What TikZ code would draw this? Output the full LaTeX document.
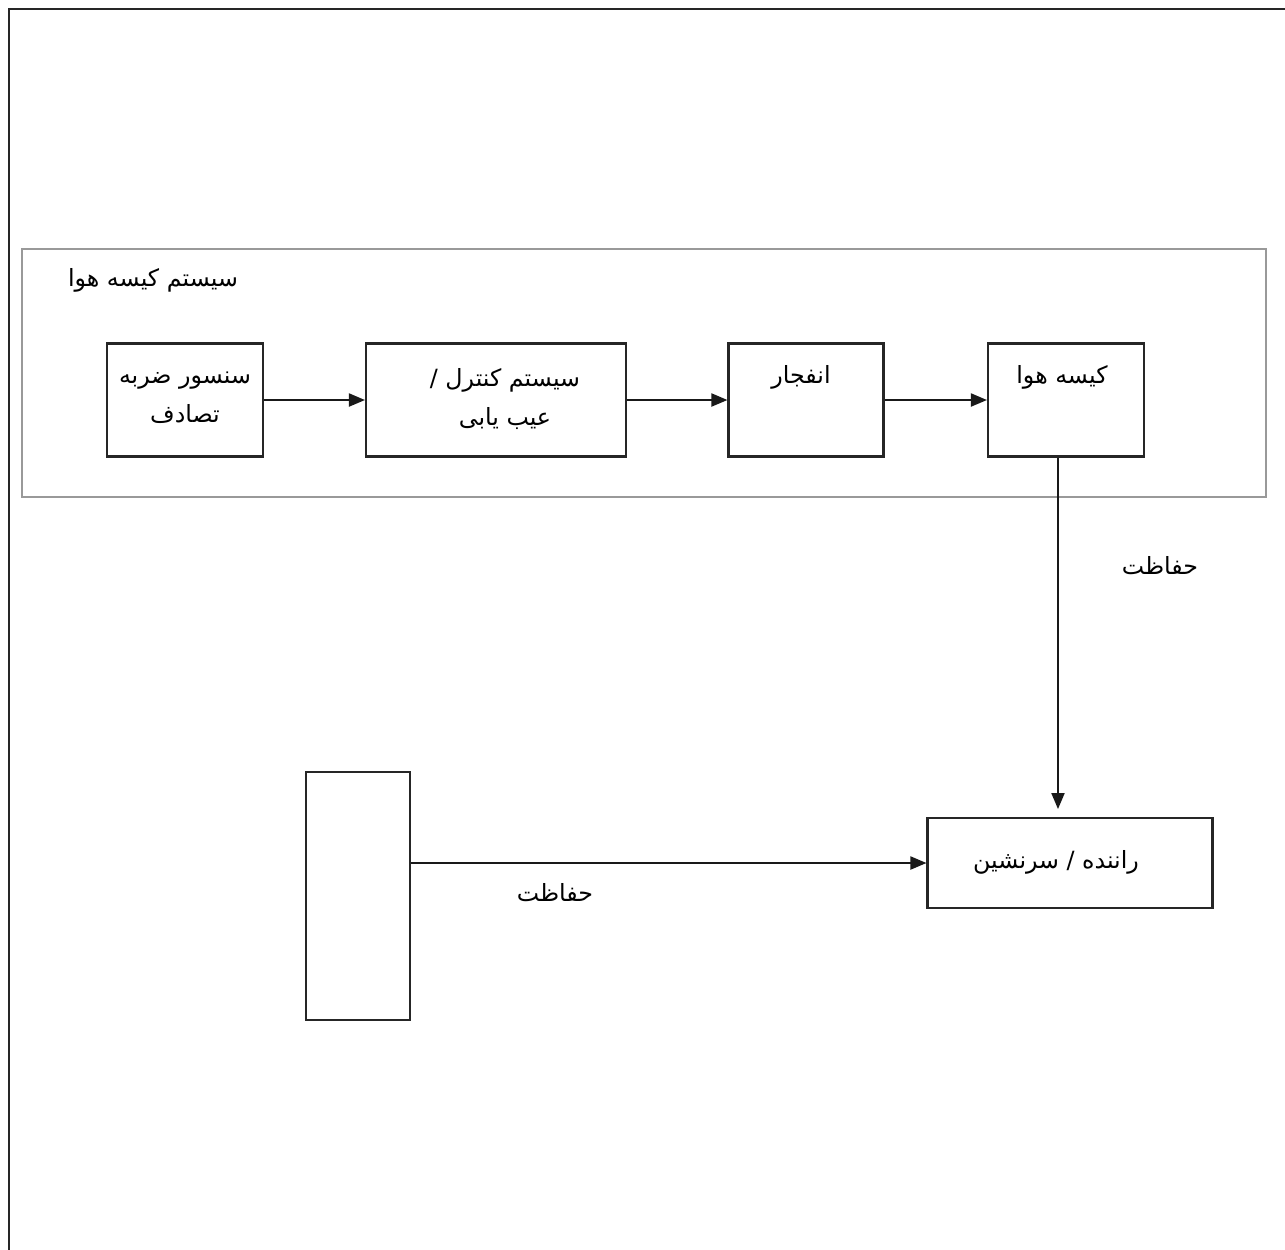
\documentclass[tikz,border=0pt]{standalone}
\usepackage{fontspec}
\newfontfamily\farsi[Script=Arabic]{DejaVu Sans}
\TeXXeTstate=1
\usetikzlibrary{arrows.meta}
\newcommand{\fa}[1]{\beginR #1\endR}
\begin{document}
\begin{tikzpicture}[
    x=0.02cm, y=-0.02cm,
    blk/.style={rectangle, draw=black!85, line width=1.2pt, inner sep=0pt},
    grp/.style={rectangle, draw=black!40, line width=1pt, inner sep=0pt},
    txt/.style={font=\farsi\fontsize{13.5}{22}\selectfont, align=center, inner sep=1pt},
    flow/.style={-{Triangle[length=0.32cm,width=0.26cm]}, line width=1.1pt, draw=black!90}
]
\useasboundingbox (0,0) rectangle (1285,1249);

% outer page frame (only top and left edges show)
\draw[line width=1.6pt, black!85] (9,1260) -- (9,9) -- (1295,9);

% airbag system group
\node[grp, minimum width=24.88cm, minimum height=4.96cm] (sys) at (644,373) {};
\node[txt] (sysT) at (153,280) {\fa{سیستم کیسه هوا}};

% blocks in the chain
\node[blk, minimum width=3.12cm, minimum height=2.26cm] (sensor) at (185,400) {};
\node[txt] (sensorT) at (185,398) {\fa{سنسور ضربه}\\\fa{تصادف}};
\node[blk, minimum width=5.2cm, minimum height=2.26cm] (ctrl) at (496,400) {};
\node[txt] (ctrlT) at (505,399) {\fa{سیستم کنترل /}\\\fa{عیب یابی}};
\node[blk, minimum width=3.1cm, minimum height=2.26cm] (blast) at (806,400) {};
\node[txt] (blastT) at (801,377) {\fa{انفجار}};
\node[blk, minimum width=3.12cm, minimum height=2.26cm] (bag) at (1066,400) {};
\node[txt] (bagT) at (1062,377) {\fa{کیسه هوا}};

% occupant and the other box
\node[blk, minimum width=5.7cm, minimum height=1.8cm] (driver) at (1070,863) {};
\node[txt] (driverT) at (1056,862) {\fa{راننده / سرنشین}};
\node[blk, minimum width=2.08cm, minimum height=4.96cm] (other) at (358,896) {};

% connectors
\draw[flow] (sensor) -- (ctrl);
\draw[flow] (ctrl) -- (blast);
\draw[flow] (blast) -- (bag);
\draw[flow, shorten >=4.5pt] (bag.south -| 1058,0) -- (driver.north -| 1058,0);
\draw[flow] (other.east |- 0,863) -- (driver.west |- 0,863);

% labels
\node[txt] (protA) at (1160,566) {\fa{حفاظت}};
\node[txt] (protB) at (555,893) {\fa{حفاظت}};
\end{tikzpicture}
\end{document}
